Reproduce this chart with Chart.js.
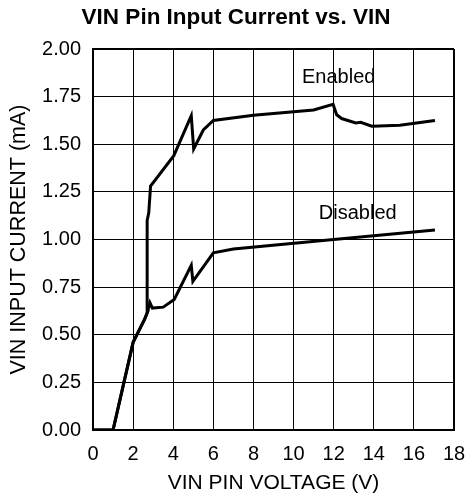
<!DOCTYPE html>
<html>
<head>
<meta charset="utf-8">
<script src="https://cdn.jsdelivr.net/npm/chart.js@4"></script>
<style>
  body { margin: 0; background: #fff; }
  #wrap { width: 468px; height: 502px; }
</style>
</head>
<body>
<div id="wrap"><canvas id="vinChart"></canvas></div>
<script>
// values
const enabledV = [0, 1.0, 2.0, 2.57, 2.72, 2.70, 2.78, 2.87, 4.03, 4.9, 5.02, 5.5, 6.0, 8.0, 11.0, 11.97, 12.15, 12.4, 13.1, 13.35, 13.9, 15.3, 17.05];
const enabledI = [0, 0, 0.46, 0.58, 0.62, 1.10, 1.14, 1.28, 1.44, 1.65, 1.475, 1.575, 1.625, 1.652, 1.68, 1.71, 1.655, 1.635, 1.612, 1.615, 1.595, 1.60, 1.625];

const disabledV = [0, 1.0, 2.0, 2.57, 2.72, 2.84, 2.96, 3.5, 4.05, 4.9, 4.98, 6.0, 7.0, 12.0, 17.05];
const disabledI = [0, 0, 0.46, 0.58, 0.62, 0.668, 0.64, 0.645, 0.685, 0.865, 0.78, 0.93, 0.95, 1.0, 1.05];

const xTicks = [0, 2, 4, 6, 8, 10, 12, 14, 16, 18];
const yTicks = ['0.00', '0.25', '0.50', '0.75', '1.00', '1.25', '1.50', '1.75', '2.00'];

const chartTitle = 'VIN Pin Input Current vs. VIN';
const curveLabels = [
  { text: 'Enabled', x: 12.25, y: 1.85 },
  { text: 'Disabled', x: 13.2, y: 1.134 }
];

function toPoints(xs, ys) {
  return xs.map((v, i) => ({ x: v, y: ys[i] }));
}

const FONT = '"Liberation Sans", Arial, sans-serif';
Chart.defaults.font.family = FONT;
Chart.defaults.font.size = 20;
Chart.defaults.color = '#000';

// title and curve names are drawn as canvas text
const labelPlugin = {
  id: 'curveLabels',
  afterDatasetsDraw(chart) {
    const ctx = chart.ctx;
    const xs = chart.scales.x, ys = chart.scales.y;
    ctx.save();
    ctx.fillStyle = '#000';
    ctx.textAlign = 'center';
    ctx.textBaseline = 'middle';
    ctx.font = 'bold 22.5px ' + FONT;
    ctx.fillText(chartTitle, 236, 18);
    ctx.font = '20px ' + FONT;
    curveLabels.forEach(l => {
      ctx.fillText(l.text, xs.getPixelForValue(l.x), ys.getPixelForValue(l.y));
    });
    ctx.restore();
  }
};

const ctx = document.getElementById('vinChart').getContext('2d');
const myChart = new Chart(ctx, {
  type: 'scatter',
  data: {
    datasets: [{
      label: 'Enabled',
      data: toPoints(enabledV, enabledI),
      showLine: true,
      borderColor: '#000',
      borderWidth: 3,
      pointRadius: 0,
      tension: 0
    }, {
      label: 'Disabled',
      data: toPoints(disabledV, disabledI),
      showLine: true,
      borderColor: '#000',
      borderWidth: 3,
      pointRadius: 0,
      tension: 0
    }]
  },
  options: {
    responsive: true,
    maintainAspectRatio: false,
    animation: false,
    layout: { padding: { left: 0, right: 14, top: 49, bottom: 0 } },
    plugins: {
      legend: { display: false },
      tooltip: { enabled: false },
      title: { display: false }
    },
    scales: {
      x: {
        type: 'linear',
        min: 0,
        max: 18,
        afterBuildTicks: s => { s.ticks = xTicks.map(v => ({ value: v })); },
        ticks: { padding: 12, callback: v => String(v) },
        grid: {
          color: '#000',
          lineWidth: c => (c.tick && c.tick.value === 18 ? 2 : 1),
          drawTicks: false
        },
        border: { color: '#000', width: 2 },
        title: {
          display: true,
          text: 'VIN PIN VOLTAGE (V)',
          font: { size: 21 },
          padding: { top: 6, bottom: 6 }
        },
        afterFit: s => { s.height = 72; s.paddingLeft = 0; s.paddingRight = 0; }
      },
      y: {
        type: 'linear',
        min: 0,
        max: 2,
        afterBuildTicks: s => { s.ticks = yTicks.map(t => ({ value: parseFloat(t) })); },
        ticks: { padding: 12, callback: v => v.toFixed(2) },
        grid: {
          color: '#000',
          lineWidth: c => (c.tick && c.tick.value === 2 ? 2 : 1),
          drawTicks: false
        },
        border: { color: '#000', width: 2 },
        title: {
          display: true,
          text: 'VIN INPUT CURRENT (mA)',
          font: { size: 21.5 },
          padding: { top: 6, bottom: 6 }
        },
        afterFit: s => { s.width = 93; s.paddingTop = 0; s.paddingBottom = 0; }
      }
    }
  },
  plugins: [labelPlugin]
});
</script>
</body>
</html>
